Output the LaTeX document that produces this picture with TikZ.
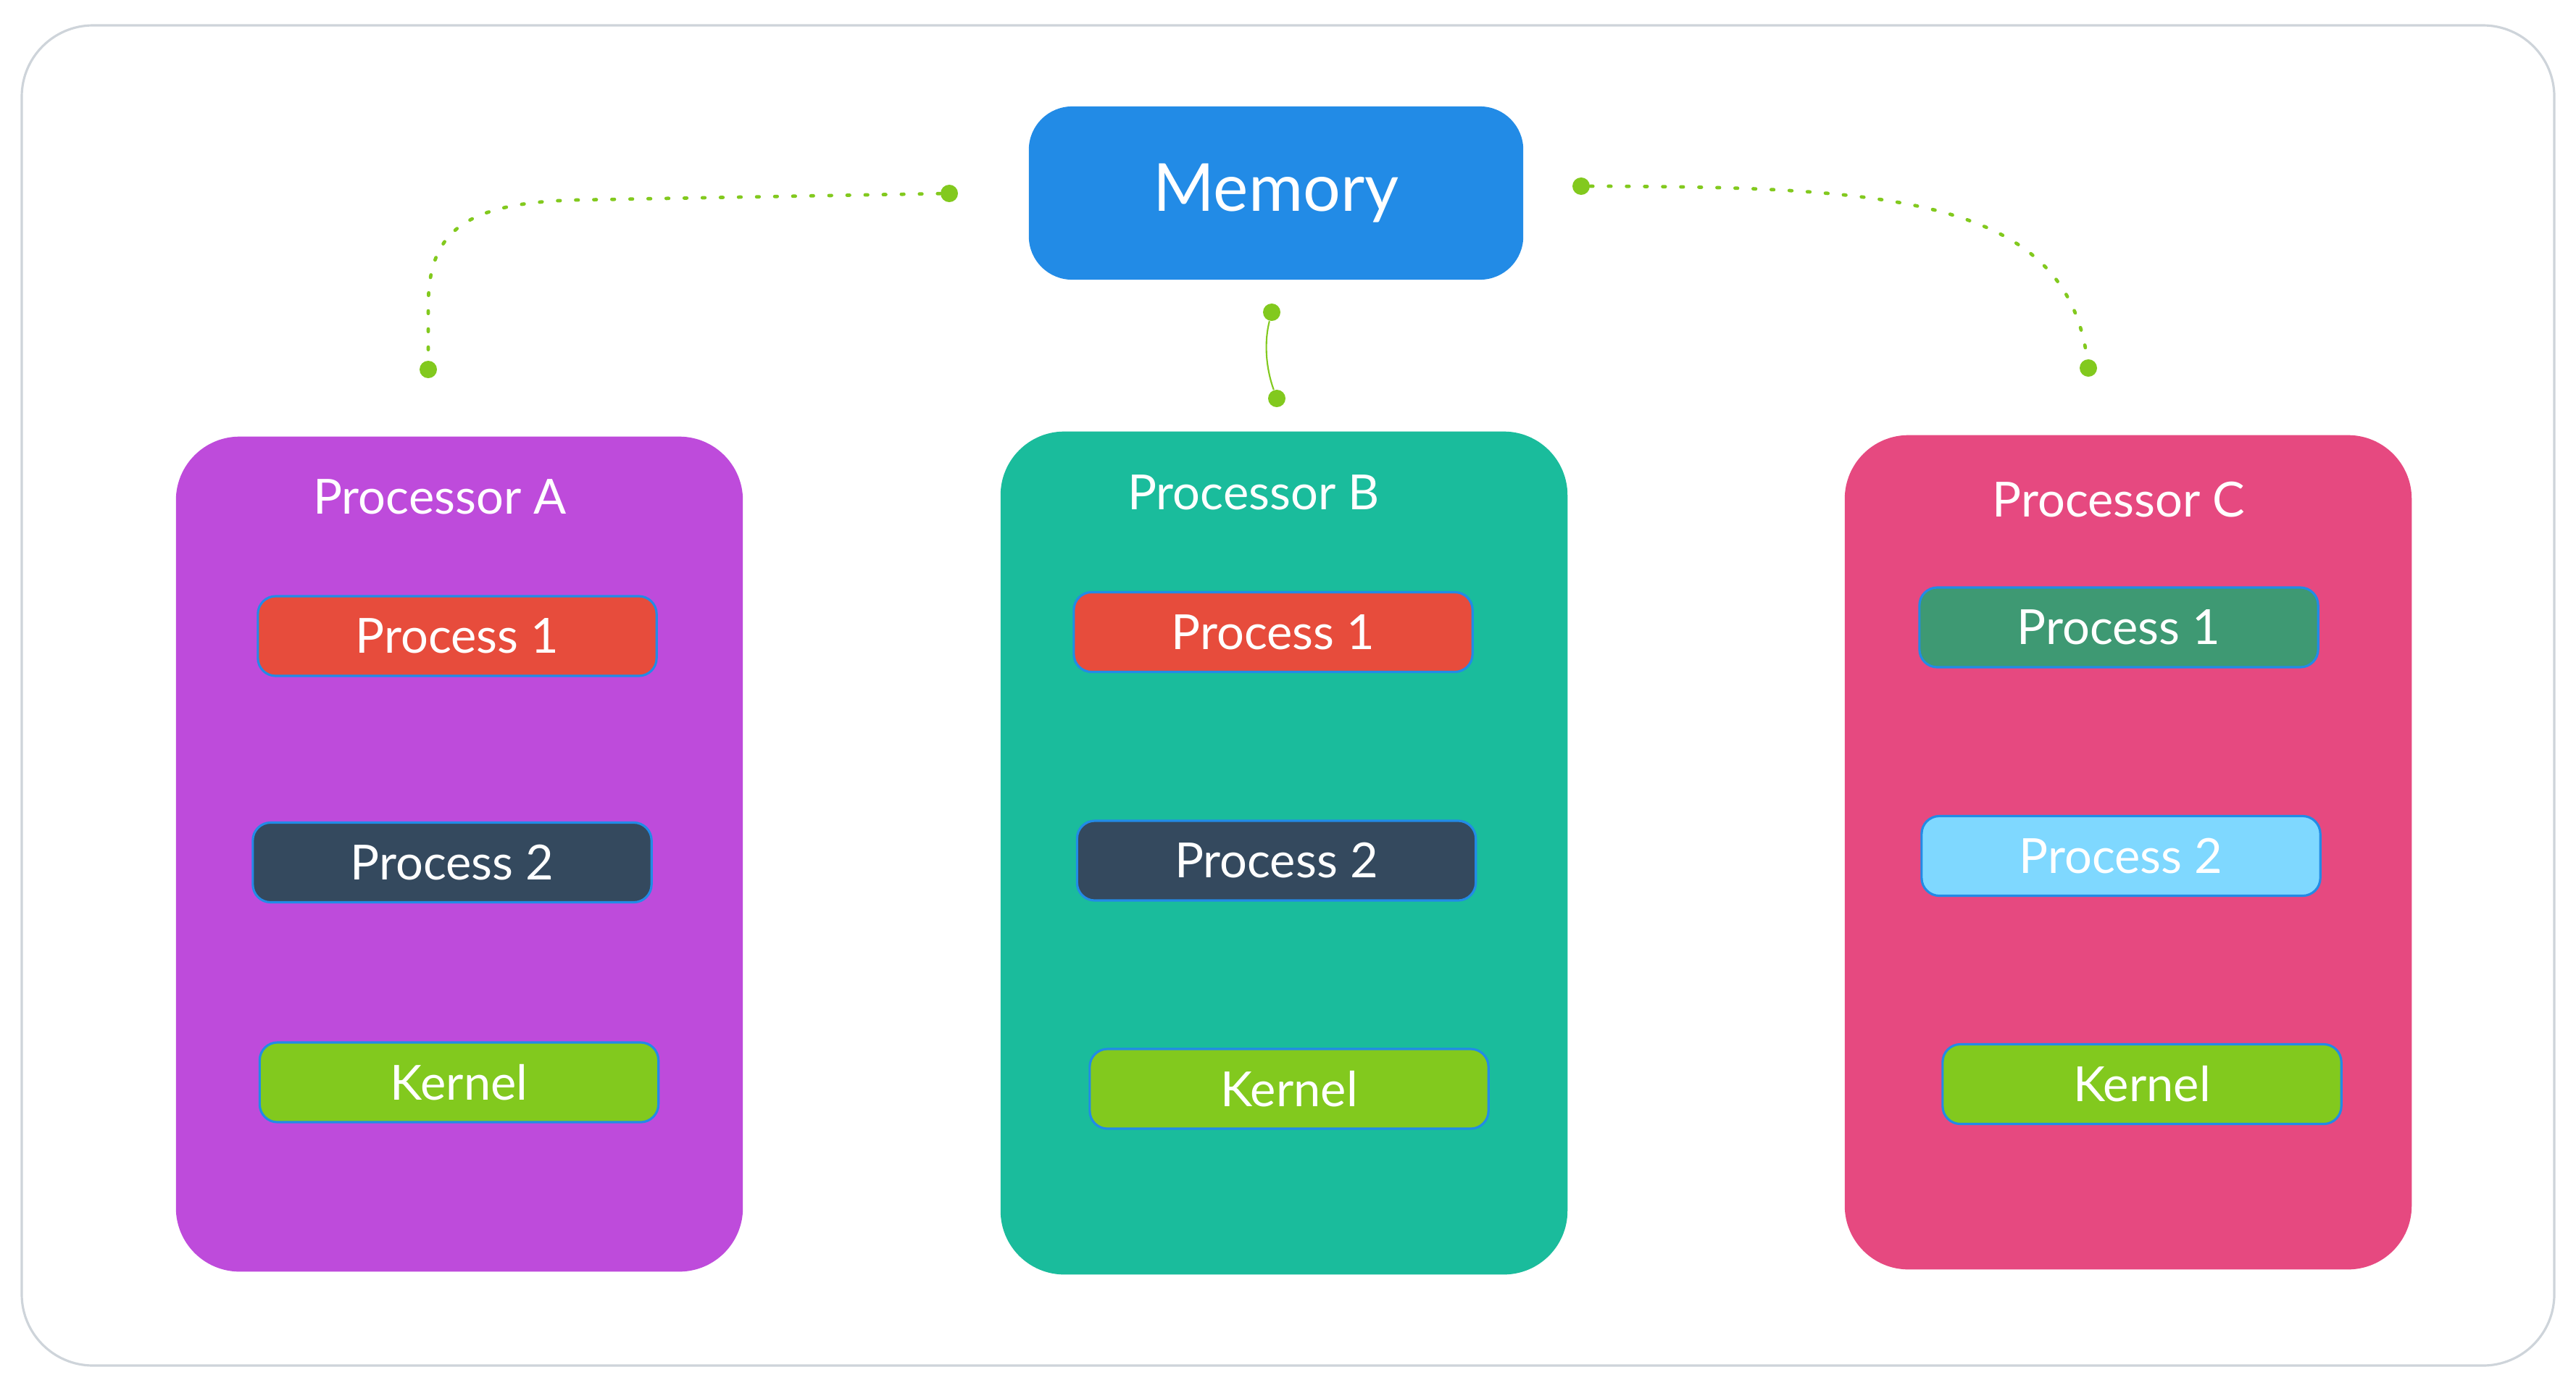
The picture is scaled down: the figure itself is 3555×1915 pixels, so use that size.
\documentclass[tikz,border=0pt]{standalone}
\usepackage{fontspec}
\setmainfont{Lato}
\definecolor{framegray}{HTML}{CED4DA}
\definecolor{memblue}{HTML}{228BE6}
\definecolor{purpA}{HTML}{BE4BDB}
\definecolor{tealB}{HTML}{1ABC9C}
\definecolor{pinkC}{HTML}{E64980}
\definecolor{redP}{HTML}{E74C3C}
\definecolor{darkP}{HTML}{34495E}
\definecolor{greenK}{HTML}{82C91E}
\definecolor{greenP}{HTML}{3E9973}
\definecolor{lightP}{HTML}{7FD8FF}
\tikzset{
  procbox/.style={rounded corners=25pt, minimum width=7.82cm, inner sep=0pt, draw=none},
  title/.style={text=white, font=\fontsize{19}{22}\selectfont, inner sep=0pt},
  task/.style={rounded corners=7pt, draw=memblue, line width=0.9pt, minimum width=5.5cm, minimum height=1.1cm, inner sep=0pt, text=white, font=\fontsize{19}{22}\selectfont},
  dotc/.style={circle, fill=greenK, minimum size=0.24cm, inner sep=0pt},
  dottedconn/.style={draw=greenK, line width=1.35pt, line cap=round, dash pattern=on 1pt off 6.1pt},
  solidconn/.style={draw=greenK, line width=0.6pt}
}
\begin{document}
\begin{tikzpicture}[x=0.01cm, y=-0.01cm]
\useasboundingbox (0,0) rectangle (3555,1915);
\fill[white] (0,0) rectangle (3555,1915);
\draw[framegray, line width=0.9pt, rounded corners=28pt] (30,35) rectangle (3525,1885);

% memory
\node[rounded corners=17pt, fill=memblue, minimum width=6.82cm, minimum height=2.39cm, inner sep=0pt, text=white, font=\fontsize{26}{30}\selectfont] (mem) at (1761,266.5) {Memory};

% processors
\node[procbox, fill=purpA, minimum height=11.52cm] (pA) at (634,1179) {};
\node[procbox, fill=tealB, minimum height=11.63cm] (pB) at (1772,1177.5) {};
\node[procbox, fill=pinkC, minimum height=11.51cm] (pC) at (2937,1176.5) {};

\node[title] (tA) at (607,686) {Processor A};
\node[title] (tB) at (1730,680) {Processor B};
\node[title] (tC) at (2924,690) {Processor C};

\node[task, fill=redP] (a1) at (631,878) {Process 1};
\node[task, fill=darkP] (a2) at (624,1190.5) {Process 2};
\node[task, fill=greenK] (ak) at (633.5,1494) {Kernel};

\node[task, fill=redP] (b1) at (1757,872.5) {Process 1};
\node[task, fill=darkP] (b2) at (1761.5,1188) {Process 2};
\node[task, fill=greenK] (bk) at (1779,1503) {Kernel};

\node[task, fill=greenP] (c1) at (2924,866) {Process 1};
\node[task, fill=lightP] (c2) at (2927,1181.5) {Process 2};
\node[task, fill=greenK] (ck) at (2956,1496.5) {Kernel};

% connector dots
\node[dotc] (mL) at (1310,267) {};
\node[dotc] (mR) at (2182,257) {};
\node[dotc] (mB) at (1755,431) {};
\node[dotc] (dA) at (591,510) {};
\node[dotc] (dB) at (1762,550) {};
\node[dotc] (dC) at (2882,508) {};

% connectors
\draw[dottedconn] (mL) -- (800,276) .. controls (640,279) and (592,320) .. (591,420) -- (dA);
\draw[dottedconn] (mR) .. controls (2600,258) and (2850,270) .. (dC);
\draw[solidconn] (mB) .. controls (1745,470) and (1746,505) .. (dB);
\end{tikzpicture}
\end{document}
